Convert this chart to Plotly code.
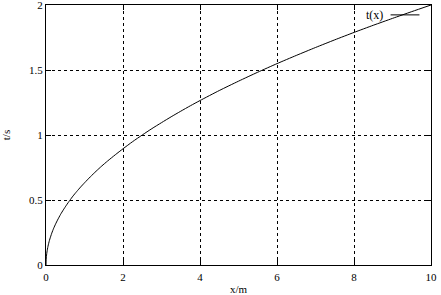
import plotly.graph_objects as go

x_m = [0, 0.005, 0.01, 0.02, 0.03, 0.045, 0.06, 0.08, 0.1, 0.15, 0.2, 0.25, 0.3, 0.38, 0.45,
       0.53, 0.62, 0.7, 0.8, 0.9, 1.0, 1.15, 1.3, 1.45, 1.6, 1.8, 2.0, 2.25, 2.5, 2.75,
       3.0, 3.25, 3.5, 3.75, 4.0, 4.5, 5.0, 5.5, 6.0, 6.5, 7.0, 7.5, 8.0, 8.5, 9.0, 9.5, 10]
t_s = [0, 0.045, 0.063, 0.09, 0.11, 0.134, 0.155, 0.179, 0.2, 0.245, 0.283, 0.316, 0.346,
       0.39, 0.424, 0.46, 0.498, 0.53, 0.566, 0.6, 0.632, 0.678, 0.721, 0.762, 0.8, 0.848,
       0.894, 0.949, 1.0, 1.049, 1.095, 1.14, 1.183, 1.225, 1.265, 1.342, 1.414, 1.483,
       1.549, 1.612, 1.673, 1.732, 1.789, 1.844, 1.897, 1.949, 2.0]
x_ticks = [0, 2, 4, 6, 8, 10]
y_ticks = [0, 0.5, 1, 1.5, 2]
y_tick_text = ["0", "0.5", "1", "1.5", "2"]

font = "Liberation Serif, Times New Roman, serif"

fig = go.Figure()
fig.add_trace(go.Scatter(x=x_m, y=t_s, mode="lines", name="t(x)",
                         line=dict(color="black", width=1, shape="spline", smoothing=0.6),
                         showlegend=False))

axis_common = dict(showline=True, linecolor="black", linewidth=1, mirror="allticks",
                   ticks="inside", ticklen=5, tickcolor="black", tickwidth=1,
                   showgrid=True, gridcolor="black", gridwidth=1, griddash="3px,3px",
                   zeroline=False, ticklabeloverflow="allow", automargin=False,
                   tickfont=dict(family=font, size=11, color="black"))

fig.update_xaxes(range=[0, 10], tickvals=x_ticks, ticktext=[str(v) for v in x_ticks],
                 ticklabelstandoff=2,
                 title=dict(text="x/m", font=dict(family=font, size=11, color="black"), standoff=5),
                 **axis_common)
fig.update_yaxes(range=[0, 2], tickvals=y_ticks, ticktext=y_tick_text,
                 title=dict(text="t/s", font=dict(family=font, size=11, color="black"), standoff=16),
                 **axis_common)

# legend key (gnuplot style: label then line sample)
fig.add_annotation(x=0.88, y=0.962, xref="paper", yref="paper", text="t(x)",
                   showarrow=False, xanchor="right", yanchor="middle",
                   font=dict(family=font, size=12, color="black"))
fig.add_shape(type="line", xref="paper", yref="paper", x0=0.895, x1=0.97, y0=0.962, y1=0.962,
              line=dict(color="black", width=1))

fig.update_layout(width=441, height=295, margin=dict(l=46, r=10, t=5, b=30),
                  paper_bgcolor="white", plot_bgcolor="white",
                  font=dict(family=font, size=11, color="black"))

fig.write_html("out.html")
